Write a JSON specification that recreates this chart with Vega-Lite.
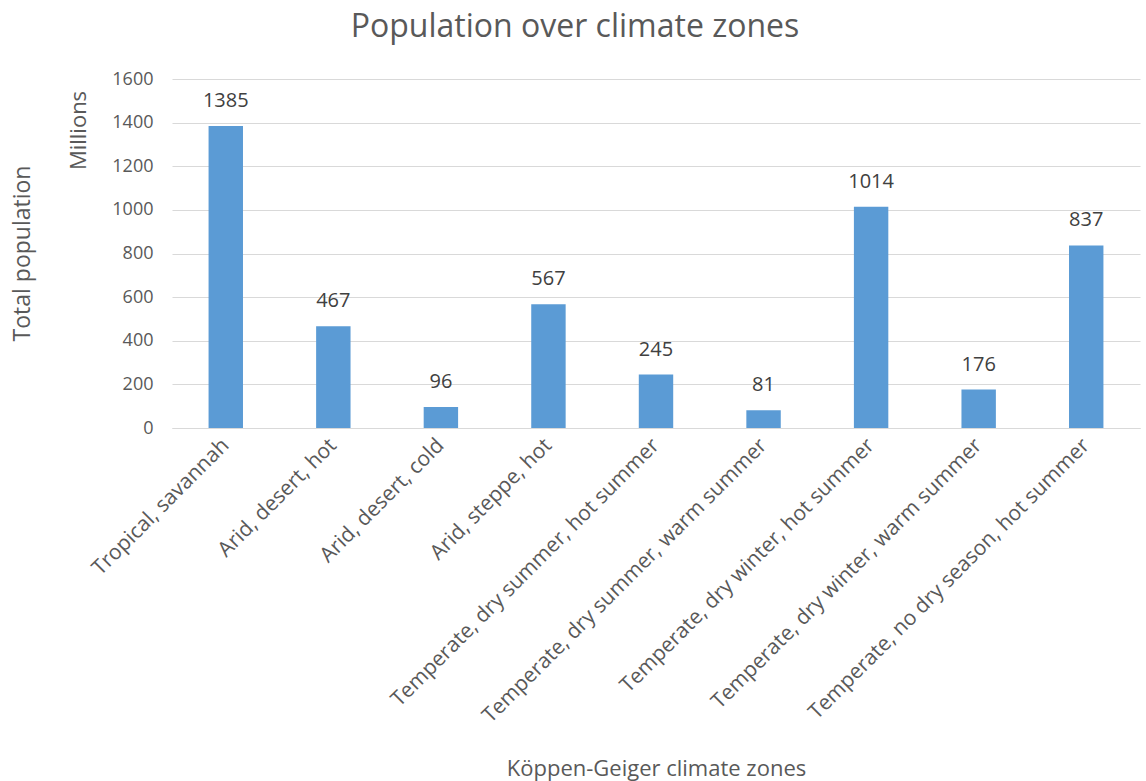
{
  "$schema": "https://vega.github.io/schema/vega-lite/v6.json",
  "width": 968,
  "height": 349,
  "autosize": "none",
  "padding": {"left": 172, "top": 79, "right": 6, "bottom": 353},
  "background": "white",
  "config": {
    "font": "Open Sans",
    "view": {"stroke": null}
  },
  "title": {
    "text": "Population over climate zones",
    "fontSize": 32,
    "font": "Open Sans",
    "fontWeight": "normal",
    "color": "#595959",
    "anchor": "middle",
    "dx": -81,
    "offset": 26
  },
  "data": {
    "values": [
      {"zone": "Tropical, savannah", "pop": 1385},
      {"zone": "Arid, desert, hot", "pop": 467},
      {"zone": "Arid, desert, cold", "pop": 96},
      {"zone": "Arid, steppe, hot", "pop": 567},
      {"zone": "Temperate, dry summer, hot summer", "pop": 245},
      {"zone": "Temperate, dry summer, warm summer", "pop": 81},
      {"zone": "Temperate, dry winter, hot summer", "pop": 1014},
      {"zone": "Temperate, dry winter, warm summer", "pop": 176},
      {"zone": "Temperate, no dry season, hot summer", "pop": 837}
    ]
  },
  "encoding": {
    "x": {
      "field": "zone",
      "type": "nominal",
      "sort": null,
      "scale": {"paddingInner": 0.68, "paddingOuter": 0.34},
      "axis": {
        "title": "Köppen-Geiger climate zones",
        "titleFontSize": 22,
        "titleFontWeight": "normal",
        "titleColor": "#595959",
        "titleY": 340,
        "titleBaseline": "middle",
        "labelAngle": -45,
        "labelAlign": "right",
        "labelBaseline": "middle",
        "labelFontSize": 21,
        "labelColor": "#595959",
        "labelPadding": 14,
        "ticks": false,
        "domainColor": "#d9d9d9",
        "domainWidth": 1,
        "labelLimit": 600
      }
    },
    "y": {
      "field": "pop",
      "type": "quantitative",
      "scale": {"domain": [0, 1600]}
    }
  },
  "layer": [
    {
      "mark": {"type": "bar", "color": "#5B9BD5"},
      "encoding": {
        "y": {
          "field": "pop",
          "type": "quantitative",
          "scale": {"domain": [0, 1600]},
          "axis": {
            "title": "Total population",
            "titleFontSize": 23,
            "titleFontWeight": "normal",
            "titleColor": "#595959",
            "titleX": -150,
            "titleY": 174,
            "titleBaseline": "middle",
            "values": [0, 200, 400, 600, 800, 1000, 1200, 1400, 1600],
            "format": "d",
            "labelFontSize": 18,
            "labelColor": "#595959",
            "labelPadding": 19,
            "ticks": false,
            "domain": false,
            "gridColor": "#d9d9d9",
            "gridWidth": 1
          }
        }
      }
    },
    {
      "mark": {"type": "text", "dy": -25, "fontSize": 20, "color": "#404040", "baseline": "middle"},
      "encoding": {
        "y": {
          "field": "pop",
          "type": "quantitative",
          "scale": {"domain": [0, 1600]},
          "axis": {
            "orient": "left",
            "title": "Millions",
            "titleFontSize": 22,
            "titleFontWeight": "normal",
            "titleColor": "#595959",
            "titleX": -94,
            "titleY": 51,
            "titleBaseline": "middle",
            "labels": false,
            "ticks": false,
            "domain": false,
            "grid": false
          }
        },
        "text": {"field": "pop", "type": "quantitative"}
      }
    }
  ],
  "resolve": {"axis": {"y": "independent"}}
}
